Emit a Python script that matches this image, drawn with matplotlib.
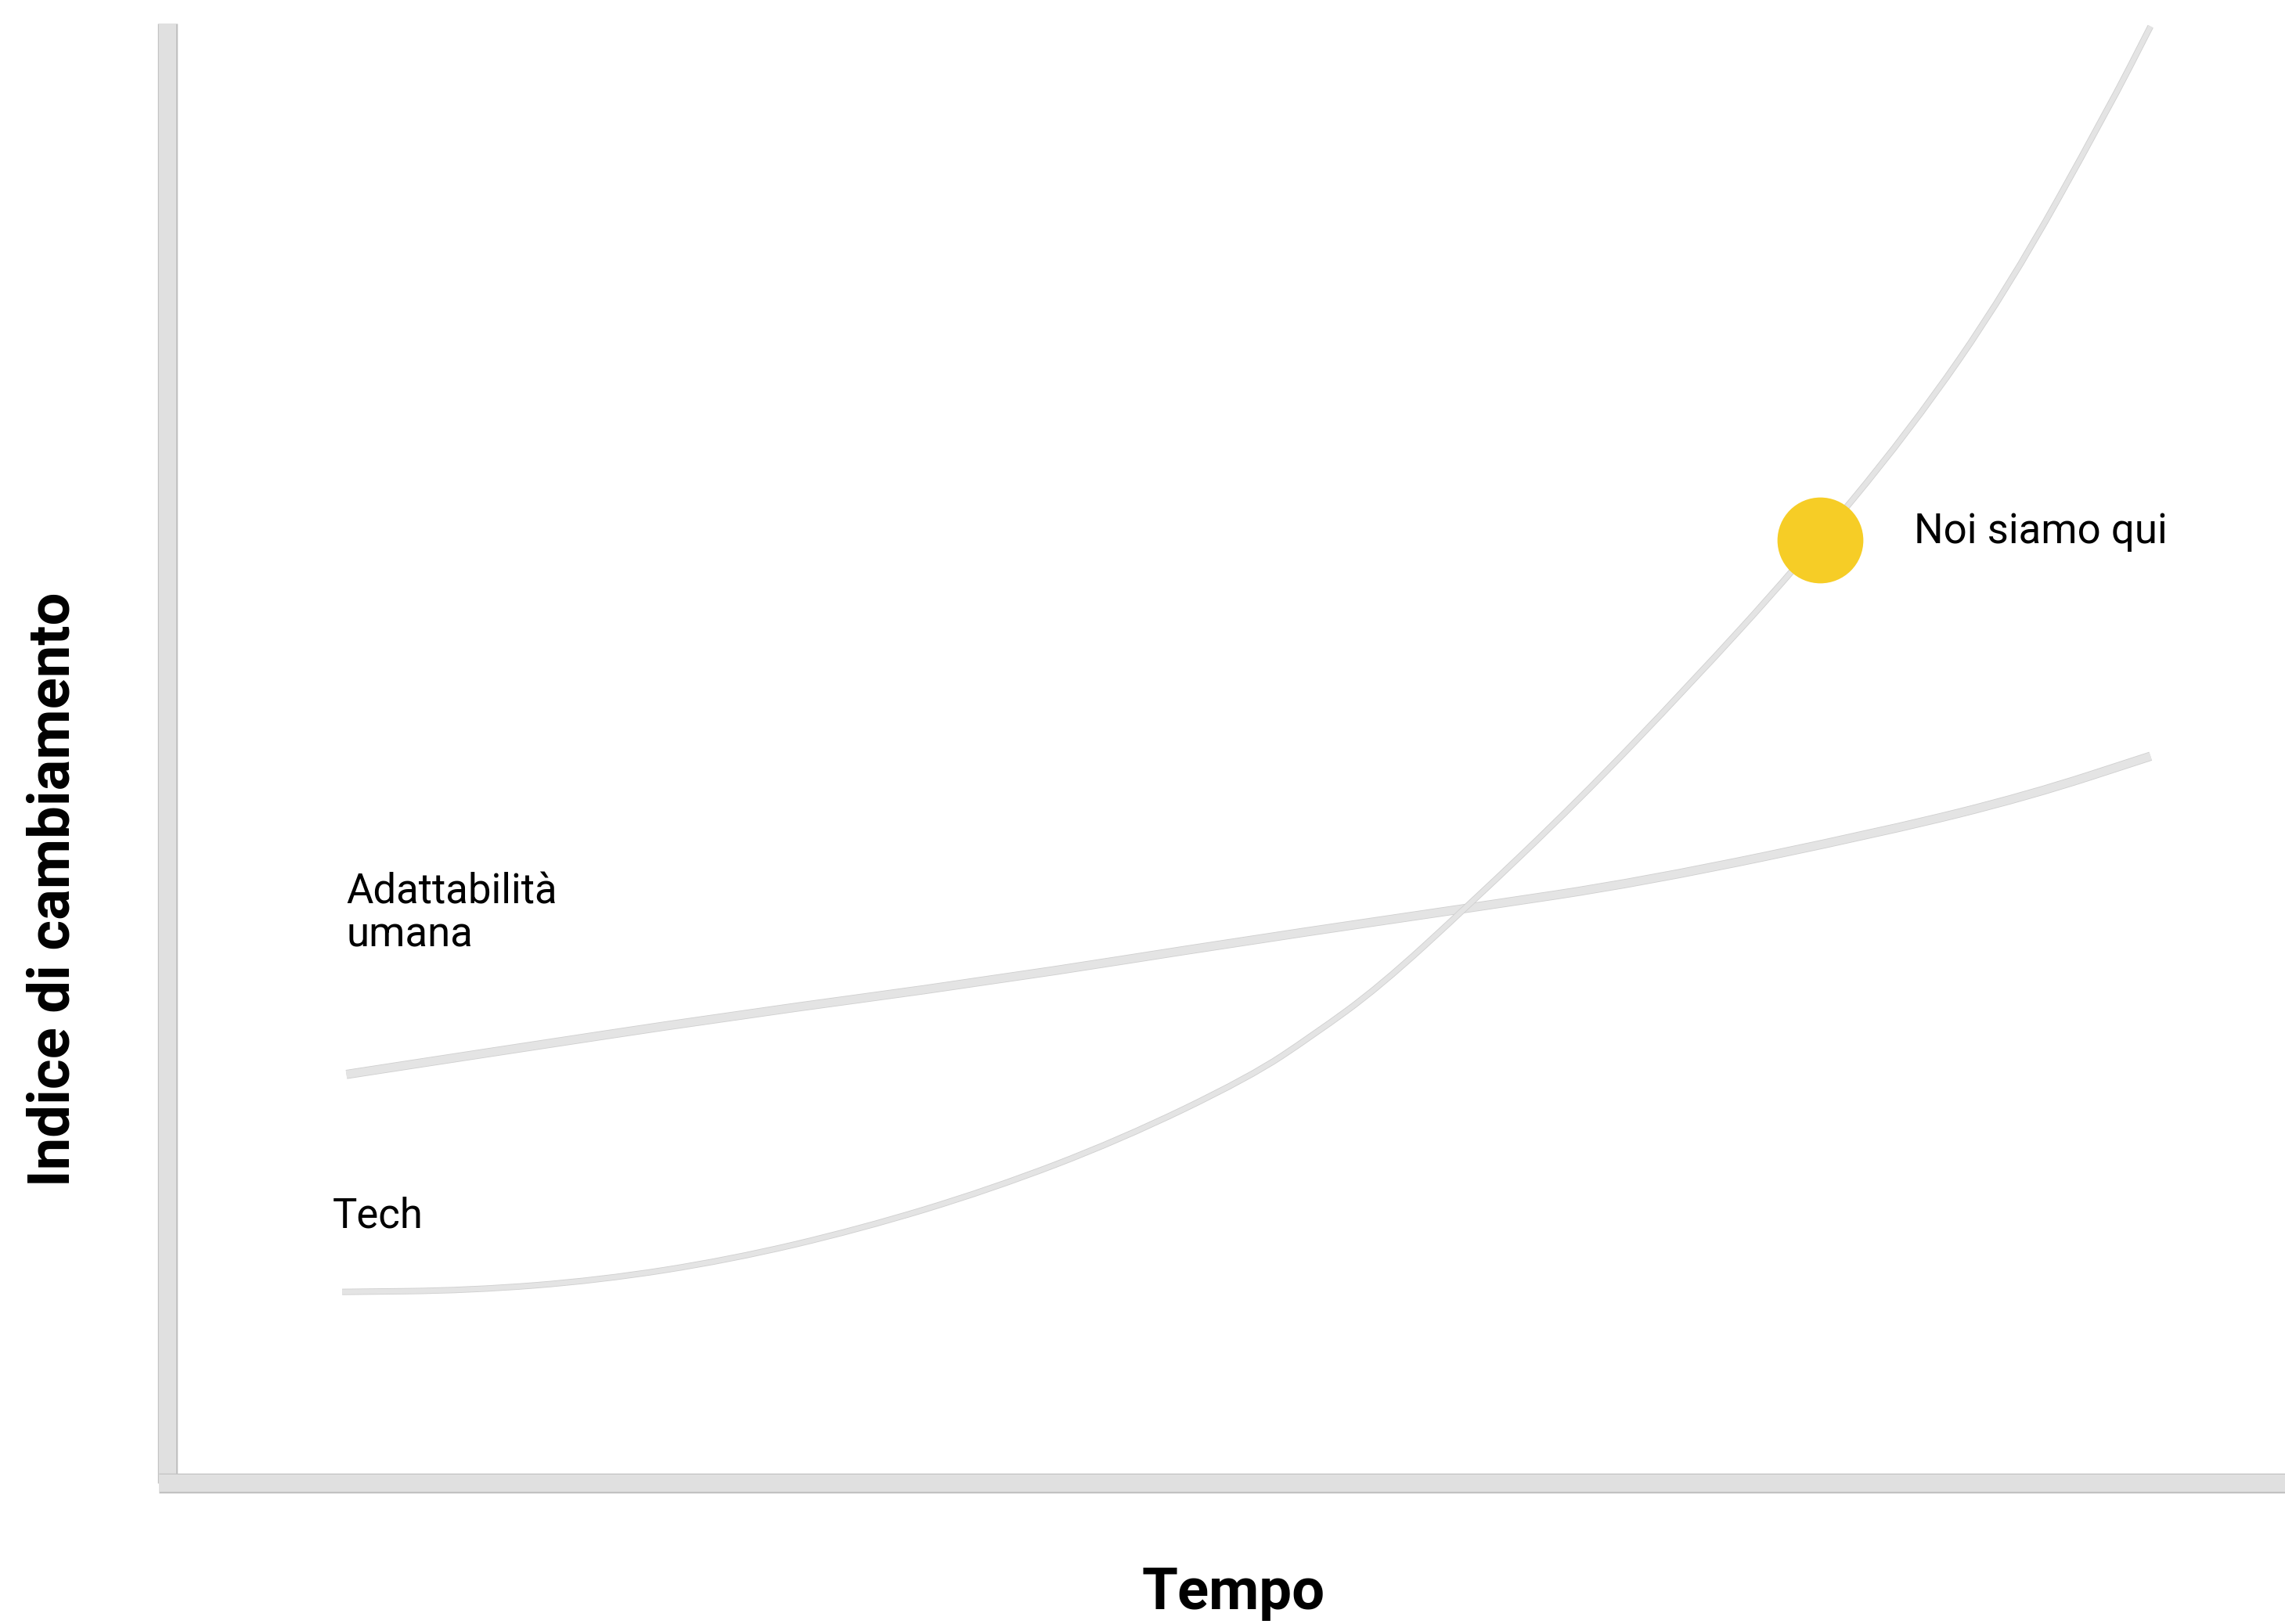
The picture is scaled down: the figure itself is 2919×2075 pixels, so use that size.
import matplotlib.pyplot as plt
import matplotlib.patheffects as pe
from matplotlib.path import Path
from matplotlib.patches import PathPatch

# Values (axes units 0..100)
tech_x = [8.2, 14.2, 20.3, 26.4, 32.5, 38.6, 44.7, 50.8, 53.8, 56.9, 61.1,
          66.2, 71.4, 76.4, 81.8, 86.4, 91.1, 93.1]
tech_y = [13.1, 13.2, 13.9, 15.3, 17.4, 20.1, 23.5, 27.8, 30.7, 34.0, 39.6,
          46.7, 54.6, 62.6, 72.1, 81.8, 94.1, 99.8]

adapt_x = [8.4, 14.2, 26.4, 38.6, 50.8, 61.1, 69.3, 80.8, 87.4, 93.1]
adapt_y = [28.0, 29.3, 32.0, 34.4, 37.2, 39.4, 41.2, 44.7, 47.1, 49.8]

here_x = [77.6]
here_y = [64.6]

W, H = 2919, 2075
DPI = 100
fig = plt.figure(figsize=(W / DPI, H / DPI), dpi=DPI)
plt.rcParams['font.family'] = ['Roboto', 'DejaVu Sans']

# axes placed so the left/bottom bars land where they are in the picture
left_px, right_px, bottom_px, top_px = 214, 2935, 1895, 30
ax = fig.add_axes([left_px / W, (H - bottom_px) / H,
                   (right_px - left_px) / W, (bottom_px - top_px) / H])
ax.set_xlim(0, 100)
ax.set_ylim(0, 100)
ax.set_xticks([])
ax.set_yticks([])

bar_w = 22 * 72 / DPI
for side in ['top', 'right']:
    ax.spines[side].set_visible(False)
for side in ['left', 'bottom']:
    sp = ax.spines[side]
    sp.set_linewidth(bar_w)
    sp.set_color('#e0e0e0')
    sp.set_capstyle('butt')
    sp.set_path_effects([pe.Stroke(linewidth=bar_w + 2.5, foreground='#c2c2c2'), pe.Normal()])
ax.spines['bottom'].set_bounds(-0.4, 100)


def smooth_path(xs, ys):
    # quadratic segments through the midpoints, so the readings render as a smooth stroke
    pts = list(zip(xs, ys))
    verts = [pts[0]]
    codes = [Path.MOVETO]
    mid = lambda a, b: ((a[0] + b[0]) / 2, (a[1] + b[1]) / 2)
    verts.append(mid(pts[0], pts[1]))
    codes.append(Path.LINETO)
    for i in range(1, len(pts) - 1):
        verts += [pts[i], mid(pts[i], pts[i + 1])]
        codes += [Path.CURVE3, Path.CURVE3]
    verts.append(pts[-1])
    codes.append(Path.LINETO)
    return Path(verts, codes)


edge = '#cfcfcf'
for xs, ys, lw in [(adapt_x, adapt_y, 7.2), (tech_x, tech_y, 4.6)]:
    patch = PathPatch(smooth_path(xs, ys), fill=False, edgecolor='#e4e4e4', lw=lw,
                      capstyle='butt', joinstyle='round', clip_on=False,
                      transform=ax.transData)
    patch.set_path_effects([pe.Stroke(linewidth=lw + 1.2, foreground=edge), pe.Normal()])
    ax.add_patch(patch)

ax.plot(here_x, here_y, 'o', color='#f6cd26', markersize=79, markeredgewidth=0,
        clip_on=False, zorder=3)

txt = dict(fontsize=38, color='black', ha='left', va='baseline')
ax.text(8.38, 39.68, 'Adattabilità', **txt)
ax.text(8.38, 36.73, 'umana', **txt)
ax.text(7.75, 17.53, 'Tech', **txt)
ax.text(82.0, 64.4, 'Noi siamo qui', **txt)

fig.text(1576 / W, (H - 2056) / H, 'Tempo', fontsize=53.5, fontweight='bold',
         ha='center', va='baseline')
fig.text(89 / W, (H - 1136) / H, 'Indice di cambiamento', fontsize=53.5, fontweight='bold',
         rotation=90, rotation_mode='anchor', ha='center', va='baseline')

fig.savefig('out.png', dpi=DPI, facecolor='white')
